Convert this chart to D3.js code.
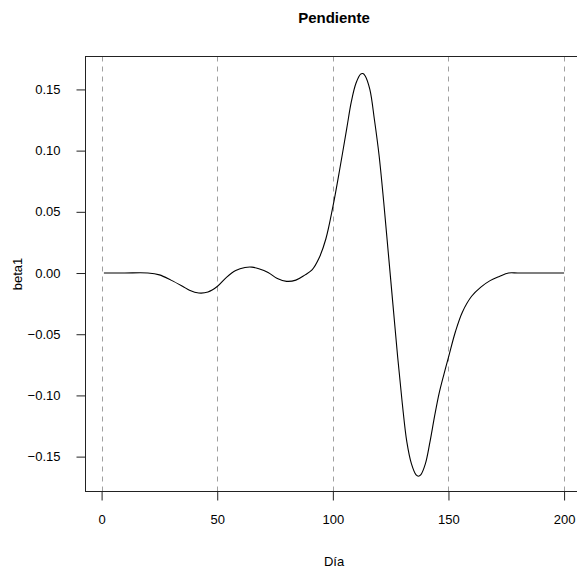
<!DOCTYPE html>
<html>
<head>
<meta charset="utf-8">
<script src="https://cdn.jsdelivr.net/npm/d3@7/dist/d3.min.js"></script>
<style>
  body { margin: 0; background: #fff; }
  svg { display: block; font-family: "Liberation Sans", Arial, sans-serif; }
</style>
</head>
<body>
<svg id="chart" width="577" height="571"></svg>
<script>
const days = [1, 10, 20, 25, 30, 35, 38, 42, 46, 50, 54, 58, 62, 65, 68, 72, 76, 80, 84, 88,
  91, 94, 97, 100, 103, 106, 108, 110, 112, 113, 114, 116, 118, 120, 122, 124, 126, 128, 130,
  132, 134, 136, 137, 138, 140, 142, 144, 146, 148, 150, 153, 156, 160, 164, 168, 172, 176, 180, 190, 200];
const beta1 = [0, 0, 0, -0.0015, -0.0058, -0.0108, -0.0140, -0.0163, -0.0155, -0.0110, -0.0035, 0.0020,
  0.0045, 0.0048, 0.0035, 0.0005, -0.0045, -0.0068, -0.0058, -0.0015,
  0.0025, 0.012, 0.028, 0.054, 0.085, 0.118, 0.140, 0.155, 0.1625, 0.163, 0.161, 0.150, 0.125, 0.096,
  0.058, 0.016, -0.026, -0.068, -0.106,
  -0.138, -0.156, -0.165, -0.166, -0.165, -0.156, -0.138, -0.117, -0.098, -0.083, -0.069, -0.048,
  -0.032, -0.019, -0.0115, -0.0062, -0.0028, 0, 0, 0, 0];
const xTicks = [0, 50, 100, 150, 200];
const yTicks = [-0.15, -0.10, -0.05, 0.00, 0.05, 0.10, 0.15];
const title = "Pendiente";
const xLabel = "Día";
const yLabel = "beta1";

const svg = d3.select("#chart");
const L = 85.5, T = 56.5, B = 491.5, R = 582.5;

const x = d3.scaleLinear().domain([-6.96, 207.96]).range([L, R]);
const y = d3.scaleLinear().domain([-0.1785, 0.1769]).range([B, T]);

// vertical dashed reference lines
svg.append("g").selectAll("line").data(xTicks).join("line")
  .attr("x1", d => Math.round(x(d)) + 0.5).attr("x2", d => Math.round(x(d)) + 0.5)
  .attr("y1", T).attr("y2", B)
  .attr("stroke", "#a0a0a0").attr("stroke-width", 1)
  .attr("stroke-dasharray", "5,5");

// curve
const data = days.map((d, i) => [d, beta1[i]]);
svg.append("path").datum(data)
  .attr("fill", "none").attr("stroke", "#000").attr("stroke-width", 1.1)
  .attr("d", d3.line().x(d => x(d[0])).y(d => y(d[1])).curve(d3.curveCatmullRom.alpha(0.5)));

// box (left, top, bottom; right edge falls outside window)
svg.append("rect").attr("x", L).attr("y", T).attr("width", R - L).attr("height", B - T)
  .attr("fill", "none").attr("stroke", "#222").attr("stroke-width", 1);

// x axis
const xAxis = d3.axisBottom(x).tickValues(xTicks).tickFormat(d3.format("d"))
  .tickSize(9).tickPadding(14);
const gx = svg.append("g").attr("transform", `translate(0,${B})`).call(xAxis);
gx.select(".domain").remove();
gx.selectAll(".tick line").attr("stroke", "#222");
gx.selectAll("text").attr("font-size", 13).attr("fill", "#000")
  .attr("font-family", "Liberation Sans, Arial, sans-serif");

// y axis
const yAxis = d3.axisLeft(y).tickValues(yTicks)
  .tickFormat(d => d3.format(".2f")(d).replace("-", "\u2212"))
  .tickSize(9).tickPadding(16);
const gy = svg.append("g").attr("transform", `translate(${L},0)`).call(yAxis);
gy.select(".domain").remove();
gy.selectAll(".tick line").attr("stroke", "#222");
gy.selectAll("text").attr("font-size", 13).attr("fill", "#000")
  .attr("font-family", "Liberation Sans, Arial, sans-serif");

// title & labels
svg.append("text").attr("x", (L + R) / 2).attr("y", 23)
  .attr("text-anchor", "middle").attr("font-size", 15).attr("font-weight", "bold")
  .text(title);
svg.append("text").attr("x", (L + R) / 2).attr("y", 566)
  .attr("text-anchor", "middle").attr("font-size", 13).text(xLabel);
svg.append("text").attr("transform", `translate(22,${(T + B) / 2}) rotate(-90)`)
  .attr("text-anchor", "middle").attr("font-size", 13).text(yLabel);
</script>
</body>
</html>
